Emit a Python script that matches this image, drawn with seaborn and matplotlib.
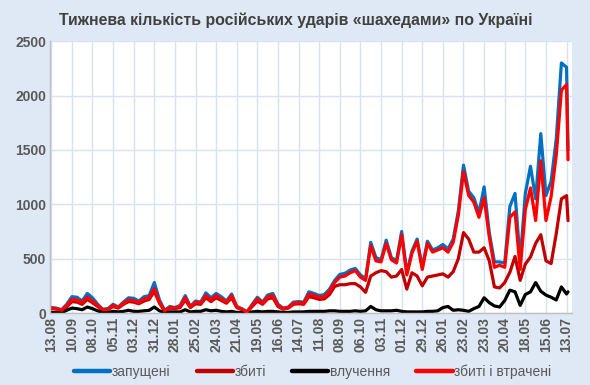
import pandas as pd
import numpy as np
import matplotlib
matplotlib.use("Agg")
import matplotlib.pyplot as plt
import seaborn as sns

sns.set_style("white")
plt.rcParams["font.family"] = ["Liberation Sans", "DejaVu Sans"]

# weekly readings, 13.08.2023 .. 13.07.2025, plus the last day shown
dates = list(pd.date_range("2023-08-13", "2025-07-13", freq="7D")) + [pd.Timestamp("2025-07-15")]

launched = [
    50, 45, 30, 80, 150,
    145, 110, 180, 140,
    80, 35, 40, 80,
    55, 100, 140, 135,
    110, 150, 160, 280,
    120, 25, 60, 50,
    70, 160, 60, 110,
    100, 185, 140, 180,
    150, 110, 175, 60,
    40, 10, 80, 145,
    100, 165, 180, 80,
    45, 55, 100, 105,
    100, 195, 180, 160,
    170, 220, 300, 355,
    365, 395, 410, 350,
    315, 650, 510, 490,
    670, 510, 480, 750,
    370, 570, 680, 420,
    660, 580, 600, 630,
    590, 680, 940, 1360,
    1120, 1060, 920, 1160,
    740, 470, 470, 460,
    980, 1100, 480, 1100,
    1350, 1050, 1650, 1080,
    1210, 1600, 2300, 2260,
    1500,
]

downed = [
    40, 35, 22, 55, 105,
    100, 80, 125, 95,
    60, 25, 30, 60,
    45, 80, 105, 100,
    85, 110, 125, 200,
    90, 18, 45, 40,
    50, 120, 50, 85,
    80, 140, 105, 140,
    115, 90, 140, 50,
    30, 10, 60, 110,
    80, 130, 140, 60,
    35, 45, 80, 85,
    80, 150, 140, 125,
    130, 170, 245, 260,
    260, 270, 270, 240,
    190, 340, 370, 390,
    380, 330, 340, 400,
    220, 370, 340, 250,
    330, 340, 350, 360,
    330, 380, 500, 740,
    680, 560, 560, 600,
    480, 240, 230, 280,
    375, 520, 300, 450,
    515, 640, 720, 480,
    455, 730, 1050, 1080,
    850,
]

hits = [
    5, 3, 3, 25, 45,
    40, 30, 55, 40,
    20, 5, 5, 15,
    10, 15, 25, 15,
    15, 20, 25, 55,
    20, 5, 10, 10,
    10, 30, 10, 15,
    15, 30, 20, 25,
    15, 10, 15, 5,
    5, 2, 10, 15,
    10, 15, 15, 10,
    5, 5, 10, 10,
    10, 15, 15, 15,
    15, 20, 20, 15,
    15, 15, 20, 15,
    20, 60, 30, 20,
    20, 20, 25, 15,
    10, 10, 10, 10,
    15, 15, 20, 50,
    60, 25, 30, 25,
    15, 40, 60, 140,
    95, 65, 55, 115,
    210, 195, 70, 170,
    195, 280, 200, 165,
    145, 120, 240, 175,
    195,
]

downed_lost = [
    45, 40, 25, 70, 125,
    120, 95, 145, 110,
    70, 30, 35, 70,
    50, 90, 120, 115,
    95, 130, 140, 225,
    100, 20, 50, 45,
    60, 140, 55, 100,
    90, 160, 120, 160,
    130, 100, 160, 55,
    35, 10, 70, 130,
    90, 150, 160, 70,
    40, 50, 90, 95,
    90, 175, 160, 145,
    150, 200, 280, 330,
    340, 370, 390, 330,
    300, 620, 480, 470,
    640, 490, 460, 720,
    350, 550, 660, 400,
    640, 560, 580, 600,
    560, 650, 900, 1300,
    1080, 1020, 880, 1060,
    700, 420, 440, 420,
    880, 930, 400, 950,
    1150, 850, 1400, 850,
    1070, 1450, 2050, 2100,
    1410,
]

series_names = ["запущені", "збиті", "влучення", "збиті і втрачені"]
series_colors = ["#0070C0", "#C00000", "#000000", "#FF0000"]

tick_labels = [
    "13.08", "10.09", "08.10", "05.11", "03.12", "31.12", "28.01", "25.02",
    "24.03", "21.04", "19.05", "16.06", "14.07", "11.08", "08.09", "06.10",
    "03.11", "01.12", "29.12", "26.01", "23.02", "23.03", "20.04", "18.05",
    "15.06", "13.07",
]
tick_dates = pd.date_range("2023-08-13", "2025-07-13", freq="28D")

df = pd.DataFrame({
    "date": dates,
    "запущені": launched,
    "збиті": downed,
    "влучення": hits,
    "збиті і втрачені": downed_lost,
}).melt(id_vars="date", var_name="series", value_name="count")

bg = "#DEE9F5"
grid_c = "#D6E3F2"
txt = "#595959"

fig = plt.figure(figsize=(5.9, 3.85), dpi=100, facecolor=bg)
ax = fig.add_axes([0.085, 0.187, 0.884, 0.706])
ax.set_facecolor("white")

sns.lineplot(
    data=df,
    x="date",
    y="count",
    hue="series",
    hue_order=series_names,
    palette=series_colors,
    linewidth=2.3,
    ax=ax,
)

ax.set_ylim(0, 2500)
ax.set_yticks(np.arange(0, 2501, 500))
ax.set_xlim(pd.Timestamp("2023-08-11 12:00"), pd.Timestamp("2025-07-20"))
ax.set_xticks(tick_dates)
ax.set_xticklabels(tick_labels, rotation=90)
ax.grid(True, color=grid_c, linewidth=1.0)
ax.set_axisbelow(True)
ax.set_xlabel("")
ax.set_ylabel("")
ax.tick_params(length=0, pad=3, labelsize=10, labelcolor=txt)
for lab in ax.get_xticklabels() + ax.get_yticklabels():
    lab.set_fontweight("bold")
for s in ["top", "right"]:
    ax.spines[s].set_visible(False)
for s in ["left", "bottom"]:
    ax.spines[s].set_color("#BFBFBF")
    ax.spines[s].set_linewidth(1.0)

fig.text(0.502, 0.948, "Тижнева кількість російських ударів «шахедами» по Україні",
         ha="center", va="center", fontsize=11.4, fontweight="bold", color="#404040")

handles, labels = ax.get_legend_handles_labels()
ax.get_legend().remove()
leg = fig.legend(handles, labels, loc="center", bbox_to_anchor=(0.53, 0.034), ncol=4,
                 frameon=False, fontsize=10, handlelength=2.6, handletextpad=0.1,
                 columnspacing=1.9)
for t in leg.get_texts():
    t.set_color(txt)
for h in leg.get_lines():
    h.set_linewidth(3.2)

fig.savefig("out.png", dpi=100, facecolor=bg)
